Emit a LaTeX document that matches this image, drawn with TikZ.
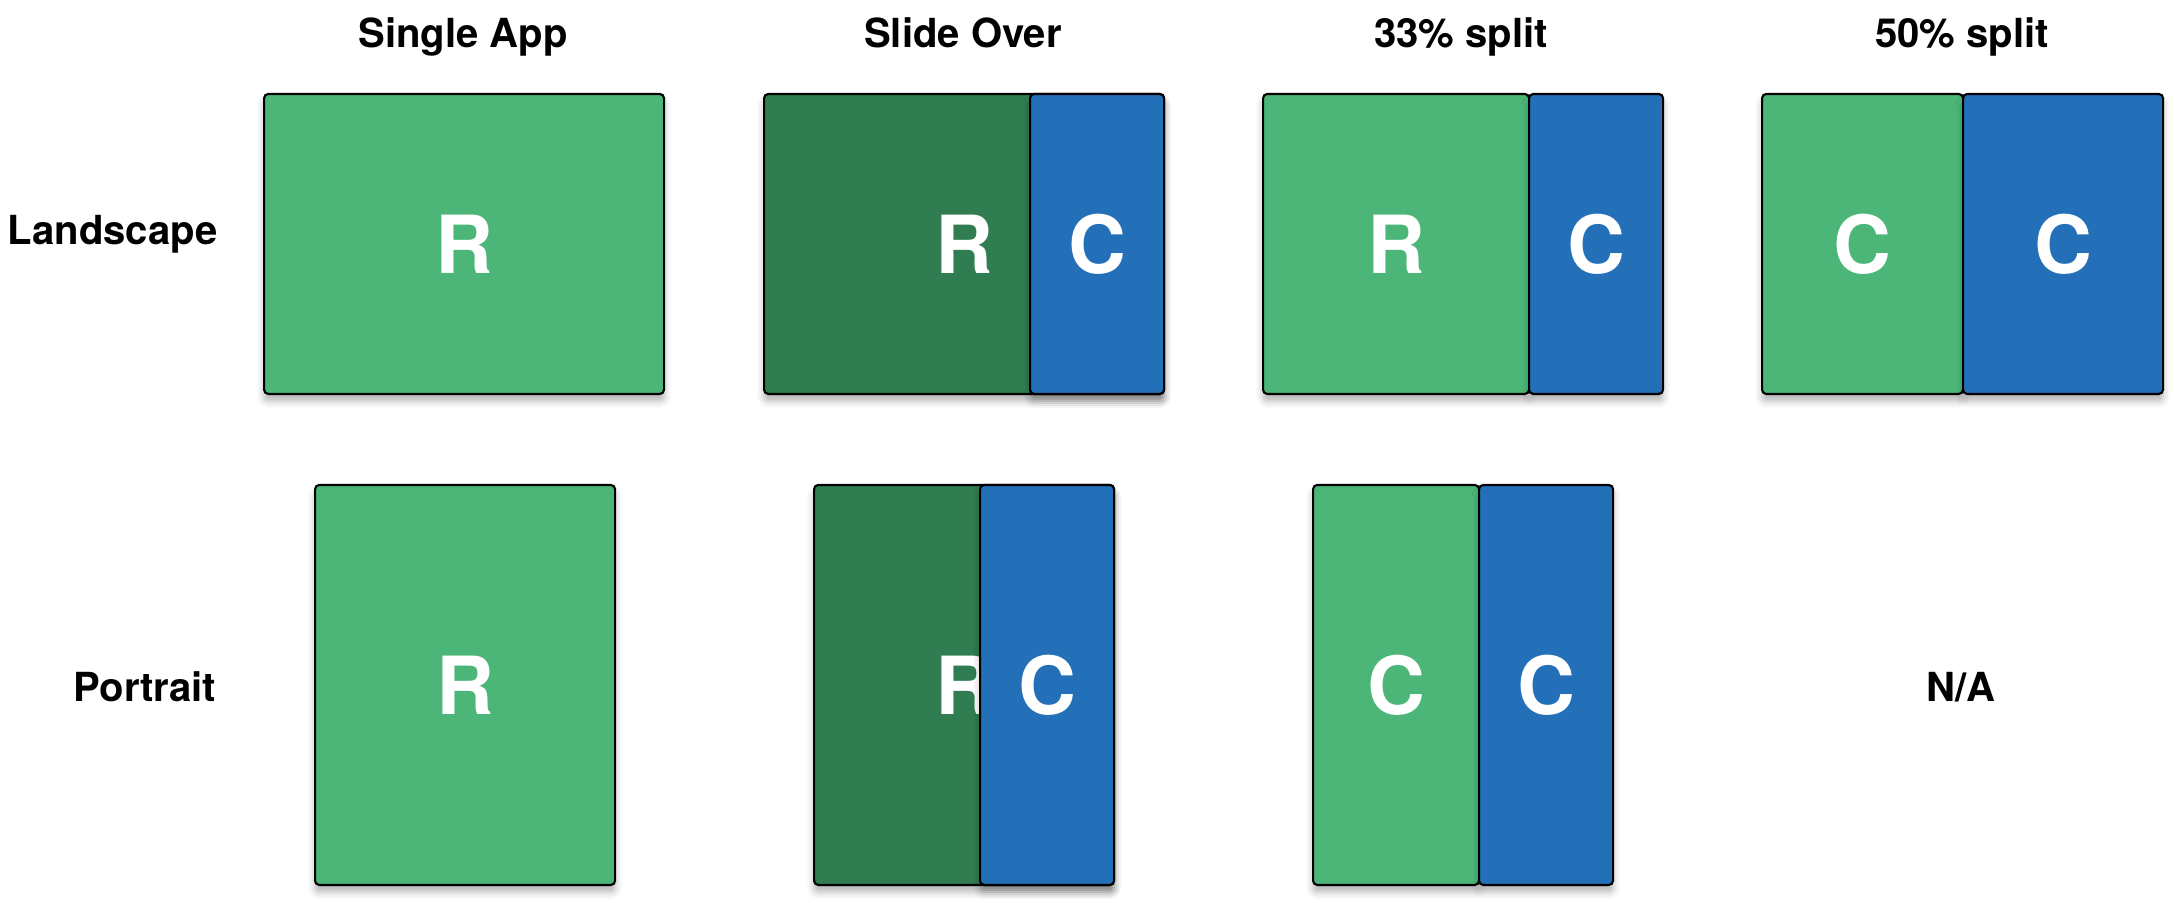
\documentclass[tikz,border=0pt]{standalone}
\usepackage{fontspec}
\setmainfont{TeX Gyre Heros}
\usetikzlibrary{shadows.blur}
\definecolor{appgreen}{RGB}{75,182,120}
\definecolor{slidegreen}{RGB}{47,125,80}
\definecolor{appblue}{RGB}{35,112,185}

\begin{document}
\begin{tikzpicture}[
  pane/.style={draw=black,line width=0.6pt,rounded corners=1.2pt,inner sep=0pt,anchor=south west,
    text=white,font=\fontsize{22.8pt}{26pt}\selectfont\bfseries,
    blur shadow={shadow xshift=0pt,shadow yshift=-2pt,shadow blur radius=2pt,shadow opacity=30}},
  land/.style={pane,minimum height=3cm},
  port/.style={pane,minimum height=4cm},
  head/.style={anchor=base,font=\fontsize{11.4pt}{13pt}\selectfont\bfseries},
  side/.style={anchor=base east,inner sep=0pt,font=\fontsize{11.4pt}{13pt}\selectfont\bfseries}
]
\useasboundingbox (0,0) rectangle (21.74,9.02);
\node[head] (H1) at (4.63,8.55) {Single App};
\node[head] (H2) at (9.63,8.55) {Slide Over};
\node[head] (H3) at (14.61,8.55) {33\% split};
\node[head] (H4) at (19.62,8.55) {50\% split};
\node[side] (Land) at (2.18,6.58) {Landscape};
\node[side] (Port) at (2.17,2.01) {Portrait};
% landscape row
\node[land,fill=appgreen,minimum width=4cm] (L1) at (2.63,5.07) {R};
\node[land,fill=slidegreen,minimum width=4cm] (L2) at (7.63,5.07) {R};
\node[land,fill=appblue,minimum width=1.34cm] (L2c) at (10.29,5.07) {C};
\node[land,fill=appgreen,minimum width=2.66cm] (L3r) at (12.62,5.07) {R};
\node[land,fill=appblue,minimum width=1.34cm] (L3c) at (15.28,5.07) {C};
\node[land,fill=appgreen,minimum width=2.01cm] (L4a) at (17.61,5.07) {C};
\node[land,fill=appblue,minimum width=2cm] (L4b) at (19.62,5.07) {C};
% portrait row
\node[port,fill=appgreen,minimum width=3cm] (P1) at (3.14,0.16) {R};
\node[port,fill=slidegreen,minimum width=3cm] (P2) at (8.13,0.16) {R};
\node[port,fill=appblue,minimum width=1.34cm] (P2c) at (9.79,0.16) {C};
\node[port,fill=appgreen,minimum width=1.66cm] (P3a) at (13.12,0.16) {C};
\node[port,fill=appblue,minimum width=1.34cm] (P3b) at (14.78,0.16) {C};
\node[head] (P4) at (19.61,2.01) {N/A};
\end{tikzpicture}
\end{document}
